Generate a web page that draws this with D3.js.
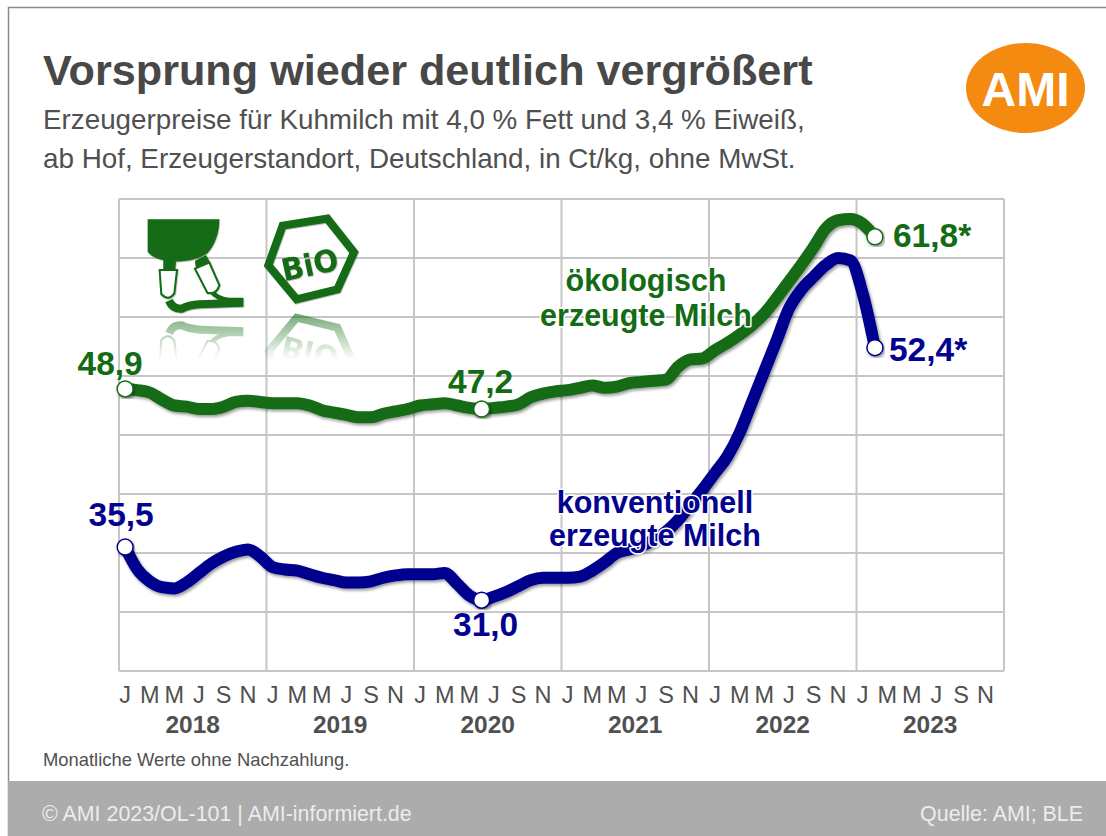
<!DOCTYPE html>
<html lang="de">
<head>
<meta charset="utf-8">
<title>Vorsprung wieder deutlich vergrößert</title>
<script src="https://cdn.jsdelivr.net/npm/d3@7"></script>
<style>
  html, body { margin: 0; padding: 0; background: #fff; }
  svg { display: block; font-family: "Liberation Sans", Arial, sans-serif; }
</style>
</head>
<body>
<svg id="chart" width="1106" height="836"></svg>
<script>
const years = [2018, 2019, 2020, 2021, 2022, 2023];
const monthLetters = ['J', 'F', 'M', 'A', 'M', 'J', 'J', 'A', 'S', 'O', 'N', 'D'];
const yTicks = [25, 30, 35, 40, 45, 50, 55, 60, 65];

// Monthly values, Jan 2018 to Feb 2023
const organic = [
  48.9, 48.8, 48.6, 48.0, 47.5, 47.4, 47.2, 47.2, 47.4, 47.8, 47.9, 47.8,
  47.7, 47.7, 47.7, 47.5, 47.1, 46.9, 46.7, 46.5, 46.5, 46.8, 47.0, 47.2,
  47.5, 47.6, 47.7, 47.5, 47.3, 47.2, 47.3, 47.4, 47.6, 48.2, 48.5, 48.7,
  48.8, 49.0, 49.2, 49.0, 49.1, 49.4, 49.5, 49.6, 49.7, 50.8, 51.4, 51.5,
  52.2, 52.8, 53.5, 54.3, 55.3, 56.6, 58.0, 59.4, 60.9, 62.5, 63.2, 63.3,
  62.9, 61.8
];
const conventional = [
  35.5, 33.6, 32.6, 32.1, 32.0, 32.5, 33.3, 34.1, 34.7, 35.1, 35.3, 34.7,
  33.8, 33.6, 33.5, 33.2, 32.9, 32.7, 32.5, 32.5, 32.6, 32.9, 33.1, 33.2,
  33.2, 33.2, 33.3, 32.4, 31.4, 31.0, 31.3, 31.7, 32.2, 32.7, 32.9, 32.9,
  32.9, 33.0, 33.5, 34.2, 35.0, 35.3, 35.6, 36.1, 36.8, 37.8, 39.1, 40.4,
  41.8, 43.2, 45.2, 47.8, 50.4, 53.0, 55.7, 57.3, 58.4, 59.4, 60.0, 59.8,
  57.0, 52.4
];
// month indexes that carry a white marker
const organicMarked = [0, 29, 61];
const conventionalMarked = [0, 29, 61];

const green = '#136c14';
const blue = '#03038f';
const gridColor = '#c6c6c6';
const textGrey = '#505050';

const svg = d3.select('#chart');
const defs = svg.append('defs');

// soft shadow used by the lines and markers
const shadow = defs.append('filter').attr('id', 'shadow')
  .attr('x', '-10%').attr('y', '-10%').attr('width', '120%').attr('height', '120%');
shadow.append('feDropShadow')
  .attr('dx', 1.5).attr('dy', 2).attr('stdDeviation', 1.5)
  .attr('flood-color', '#000').attr('flood-opacity', 0.4);

const fade = defs.append('linearGradient').attr('id', 'fade')
  .attr('x1', 0).attr('y1', 0).attr('x2', 0).attr('y2', 1);
fade.append('stop').attr('offset', 0).attr('stop-color', '#fff').attr('stop-opacity', 0.6);
fade.append('stop').attr('offset', 1).attr('stop-color', '#fff').attr('stop-opacity', 0);
defs.append('mask').attr('id', 'fadeMask')
  .attr('maskUnits', 'userSpaceOnUse')
  .attr('x', 100).attr('y', 312).attr('width', 300).attr('height', 48)
  .append('rect')
  .attr('x', 100).attr('y', 312).attr('width', 300).attr('height', 48)
  .attr('fill', 'url(#fade)');

// Page frame and footer
svg.append('path')
  .attr('d', 'M8.5,836V7.5H1106')
  .attr('fill', 'none').attr('stroke', '#8a8a8a').attr('stroke-width', 1.5);
svg.append('rect')
  .attr('x', 8).attr('y', 781).attr('width', 1098).attr('height', 55)
  .attr('fill', '#acacac');

// Heading
svg.append('text').attr('x', 43).attr('y', 85)
  .attr('font-size', 43.2).attr('font-weight', 700).attr('fill', '#484848')
  .text('Vorsprung wieder deutlich vergrößert');
svg.append('text').attr('x', 43).attr('y', 129)
  .attr('font-size', 27.8).attr('fill', textGrey)
  .text('Erzeugerpreise für Kuhmilch mit 4,0 % Fett und 3,4 % Eiweiß,');
svg.append('text').attr('x', 43).attr('y', 168)
  .attr('font-size', 27.8).attr('fill', textGrey)
  .text('ab Hof, Erzeugerstandort, Deutschland, in Ct/kg, ohne MwSt.');

// Logo
svg.append('ellipse')
  .attr('cx', 1025.5).attr('cy', 88).attr('rx', 59.5).attr('ry', 45)
  .attr('fill', '#f58a10');
svg.append('text').attr('x', 1025.5).attr('y', 106)
  .attr('text-anchor', 'middle').attr('font-size', 48).attr('font-weight', 700)
  .attr('fill', '#fff')
  .text('AMI');

// Scales
const monthIndex = d3.range(years.length * 12);
const x = d3.scaleBand().domain(monthIndex).range([119, 1004]);
const y = d3.scaleLinear().domain([25, 65]).range([671, 199]);
const cx = i => x(i) + x.bandwidth() / 2;

// Grid
const grid = svg.append('g')
  .attr('stroke', gridColor).attr('stroke-width', 2);
grid.selectAll('line.h').data(yTicks).join('line')
  .attr('class', 'h')
  .attr('x1', 119).attr('x2', 1004)
  .attr('y1', d => y(d)).attr('y2', d => y(d));
grid.selectAll('line.v').data(d3.range(years.length + 1)).join('line')
  .attr('class', 'v')
  .attr('x1', d => d < years.length ? x(d * 12) : 1004)
  .attr('x2', d => d < years.length ? x(d * 12) : 1004)
  .attr('y1', 199).attr('y2', 671);

// Month letters, every second month
const axis = d3.axisBottom(x)
  .tickValues(monthIndex.filter(i => i % 2 === 0))
  .tickSize(0)
  .tickPadding(0)
  .tickFormat(i => monthLetters[i % 12]);
const axisG = svg.append('g')
  .attr('transform', 'translate(0,686)')
  .call(axis);
axisG.select('.domain').remove();
axisG.selectAll('text')
  .attr('font-family', '"Liberation Sans", Arial, sans-serif')
  .attr('font-size', 23.5).attr('fill', textGrey).attr('dy', '0.71em');

// Year labels
svg.append('g').selectAll('text').data(years).join('text')
  .attr('x', (d, i) => x(i * 12) + 73.7)
  .attr('y', 733)
  .attr('text-anchor', 'middle')
  .attr('font-size', 24.5).attr('font-weight', 700).attr('fill', textGrey)
  .text(d => d);

svg.append('text').attr('x', 43).attr('y', 766)
  .attr('font-size', 18.4).attr('fill', textGrey)
  .text('Monatliche Werte ohne Nachzahlung.');

// Footer text
svg.append('text').attr('x', 42).attr('y', 821)
  .attr('font-size', 21.4).attr('fill', '#ececec')
  .text('© AMI 2023/OL-101 | AMI-informiert.de');
svg.append('text').attr('x', 1083).attr('y', 821)
  .attr('text-anchor', 'end')
  .attr('font-size', 21.4).attr('fill', '#ececec')
  .text('Quelle: AMI; BLE');

// Udder claw and bio seal, sketched in crop coordinates (3x)
function drawClaw(g) {
  g.append('path')
    .attr('d', 'M143,88H358C358,130 345,165 322,190C290,212 240,220 190,210C165,205 150,195 143,185Z')
    .attr('fill', green);
  g.append('path')
    .attr('d', 'M190,205L228,210L226,240H190Z')
    .attr('fill', green);
  g.append('path')
    .attr('d', 'M285,212L318,195L332,220L288,238Z')
    .attr('fill', green);
  g.append('path')
    .attr('d', 'M335,305Q350,325 385,330L430,330')
    .attr('fill', 'none').attr('stroke', green).attr('stroke-width', 14);
  g.append('path')
    .attr('d', 'M207,332Q218,358 245,356Q265,345 300,343L430,338')
    .attr('fill', 'none').attr('stroke', green).attr('stroke-width', 24);
  g.append('path')
    .attr('d', 'M179,240H231L223,310Q205,335 184,312Z')
    .attr('fill', '#fff').attr('stroke', green).attr('stroke-width', 6);
  g.append('path')
    .attr('d', 'M285,236L328,218L358,285Q350,315 322,308Z')
    .attr('fill', '#fff').attr('stroke', green).attr('stroke-width', 6);
}
function drawSeal(g) {
  g.append('path')
    .attr('d', 'M548,107L682,86L762,187L712,298L590,328L505,226Z')
    .attr('fill', 'none').attr('stroke', green).attr('stroke-width', 24)
    .attr('stroke-linejoin', 'miter');
  g.append('text')
    .attr('transform', 'translate(636,256) rotate(-12)')
    .attr('text-anchor', 'middle')
    .attr('font-family', '"DejaVu Sans", sans-serif')
    .attr('font-size', 92).attr('font-weight', 700).attr('fill', green)
    .attr('textLength', 172).attr('lengthAdjust', 'spacingAndGlyphs')
    .text('BiO');
}
const icons = svg.append('g')
  .attr('transform', 'translate(100,190) scale(0.3333)')
  .attr('filter', 'url(#shadow)');
drawClaw(icons);
drawSeal(icons);

// Mirrored copy of the icons, fading out downward
const mirror = svg.append('g').attr('mask', 'url(#fadeMask)');
drawClaw(mirror.append('g').attr('transform', 'translate(100,444) scale(0.3333,-0.3333)'));
drawSeal(mirror.append('g').attr('transform', 'translate(100,427) scale(0.3333,-0.3333)'));

// Lines
const line = d3.line()
  .x((d, i) => cx(i))
  .y(d => y(d))
  .curve(d3.curveMonotoneX);

function drawSeries(values, color) {
  svg.append('path')
    .attr('d', line(values))
    .attr('fill', 'none')
    .attr('stroke', color)
    .attr('stroke-width', 12)
    .attr('stroke-linejoin', 'round')
    .attr('filter', 'url(#shadow)');
}
drawSeries(organic, green);
drawSeries(conventional, blue);

// Series captions sit on top of the lines, with a white halo
function caption(text, px, py, color) {
  svg.append('text').attr('x', px).attr('y', py)
    .attr('text-anchor', 'middle')
    .attr('font-size', 30.5).attr('font-weight', 700)
    .attr('fill', color)
    .attr('stroke', '#fff').attr('stroke-width', 3).attr('stroke-linejoin', 'round')
    .attr('paint-order', 'stroke')
    .text(text);
}
caption('ökologisch', 646, 291, green);
caption('erzeugte Milch', 646, 326, green);
caption('konventionell', 655, 513, blue);
caption('erzeugte Milch', 655, 546, blue);

// Markers
function drawMarkers(values, marked, color) {
  svg.append('g').selectAll('circle').data(marked).join('circle')
    .attr('cx', i => cx(i))
    .attr('cy', i => y(values[i]))
    .attr('r', 8)
    .attr('fill', '#fff')
    .attr('stroke', color)
    .attr('stroke-width', 1.5)
    .attr('filter', 'url(#shadow)');
}
drawMarkers(organic, organicMarked, green);
drawMarkers(conventional, conventionalMarked, blue);

// Value labels
function valueLabel(text, i, value, dx, dy, anchor, color) {
  svg.append('text')
    .attr('x', cx(i) + dx).attr('y', y(value) + dy)
    .attr('text-anchor', anchor)
    .attr('font-size', 33.5).attr('font-weight', 700)
    .attr('fill', color)
    .text(text);
}
const fmt = v => String(v.toFixed(1)).replace('.', ',');
valueLabel(fmt(organic[0]), 0, organic[0], -15, -14, 'middle', green);
valueLabel(fmt(organic[29]), 29, organic[29], -1, -16, 'middle', green);
valueLabel(fmt(organic[61]) + '*', 61, organic[61], 18, 10, 'start', green);
valueLabel(fmt(conventional[0]), 0, conventional[0], -4, -21, 'middle', blue);
valueLabel(fmt(conventional[29]), 29, conventional[29], 4, 36, 'middle', blue);
valueLabel(fmt(conventional[61]) + '*', 61, conventional[61], 14, 13, 'start', blue);
</script>
</body>
</html>
